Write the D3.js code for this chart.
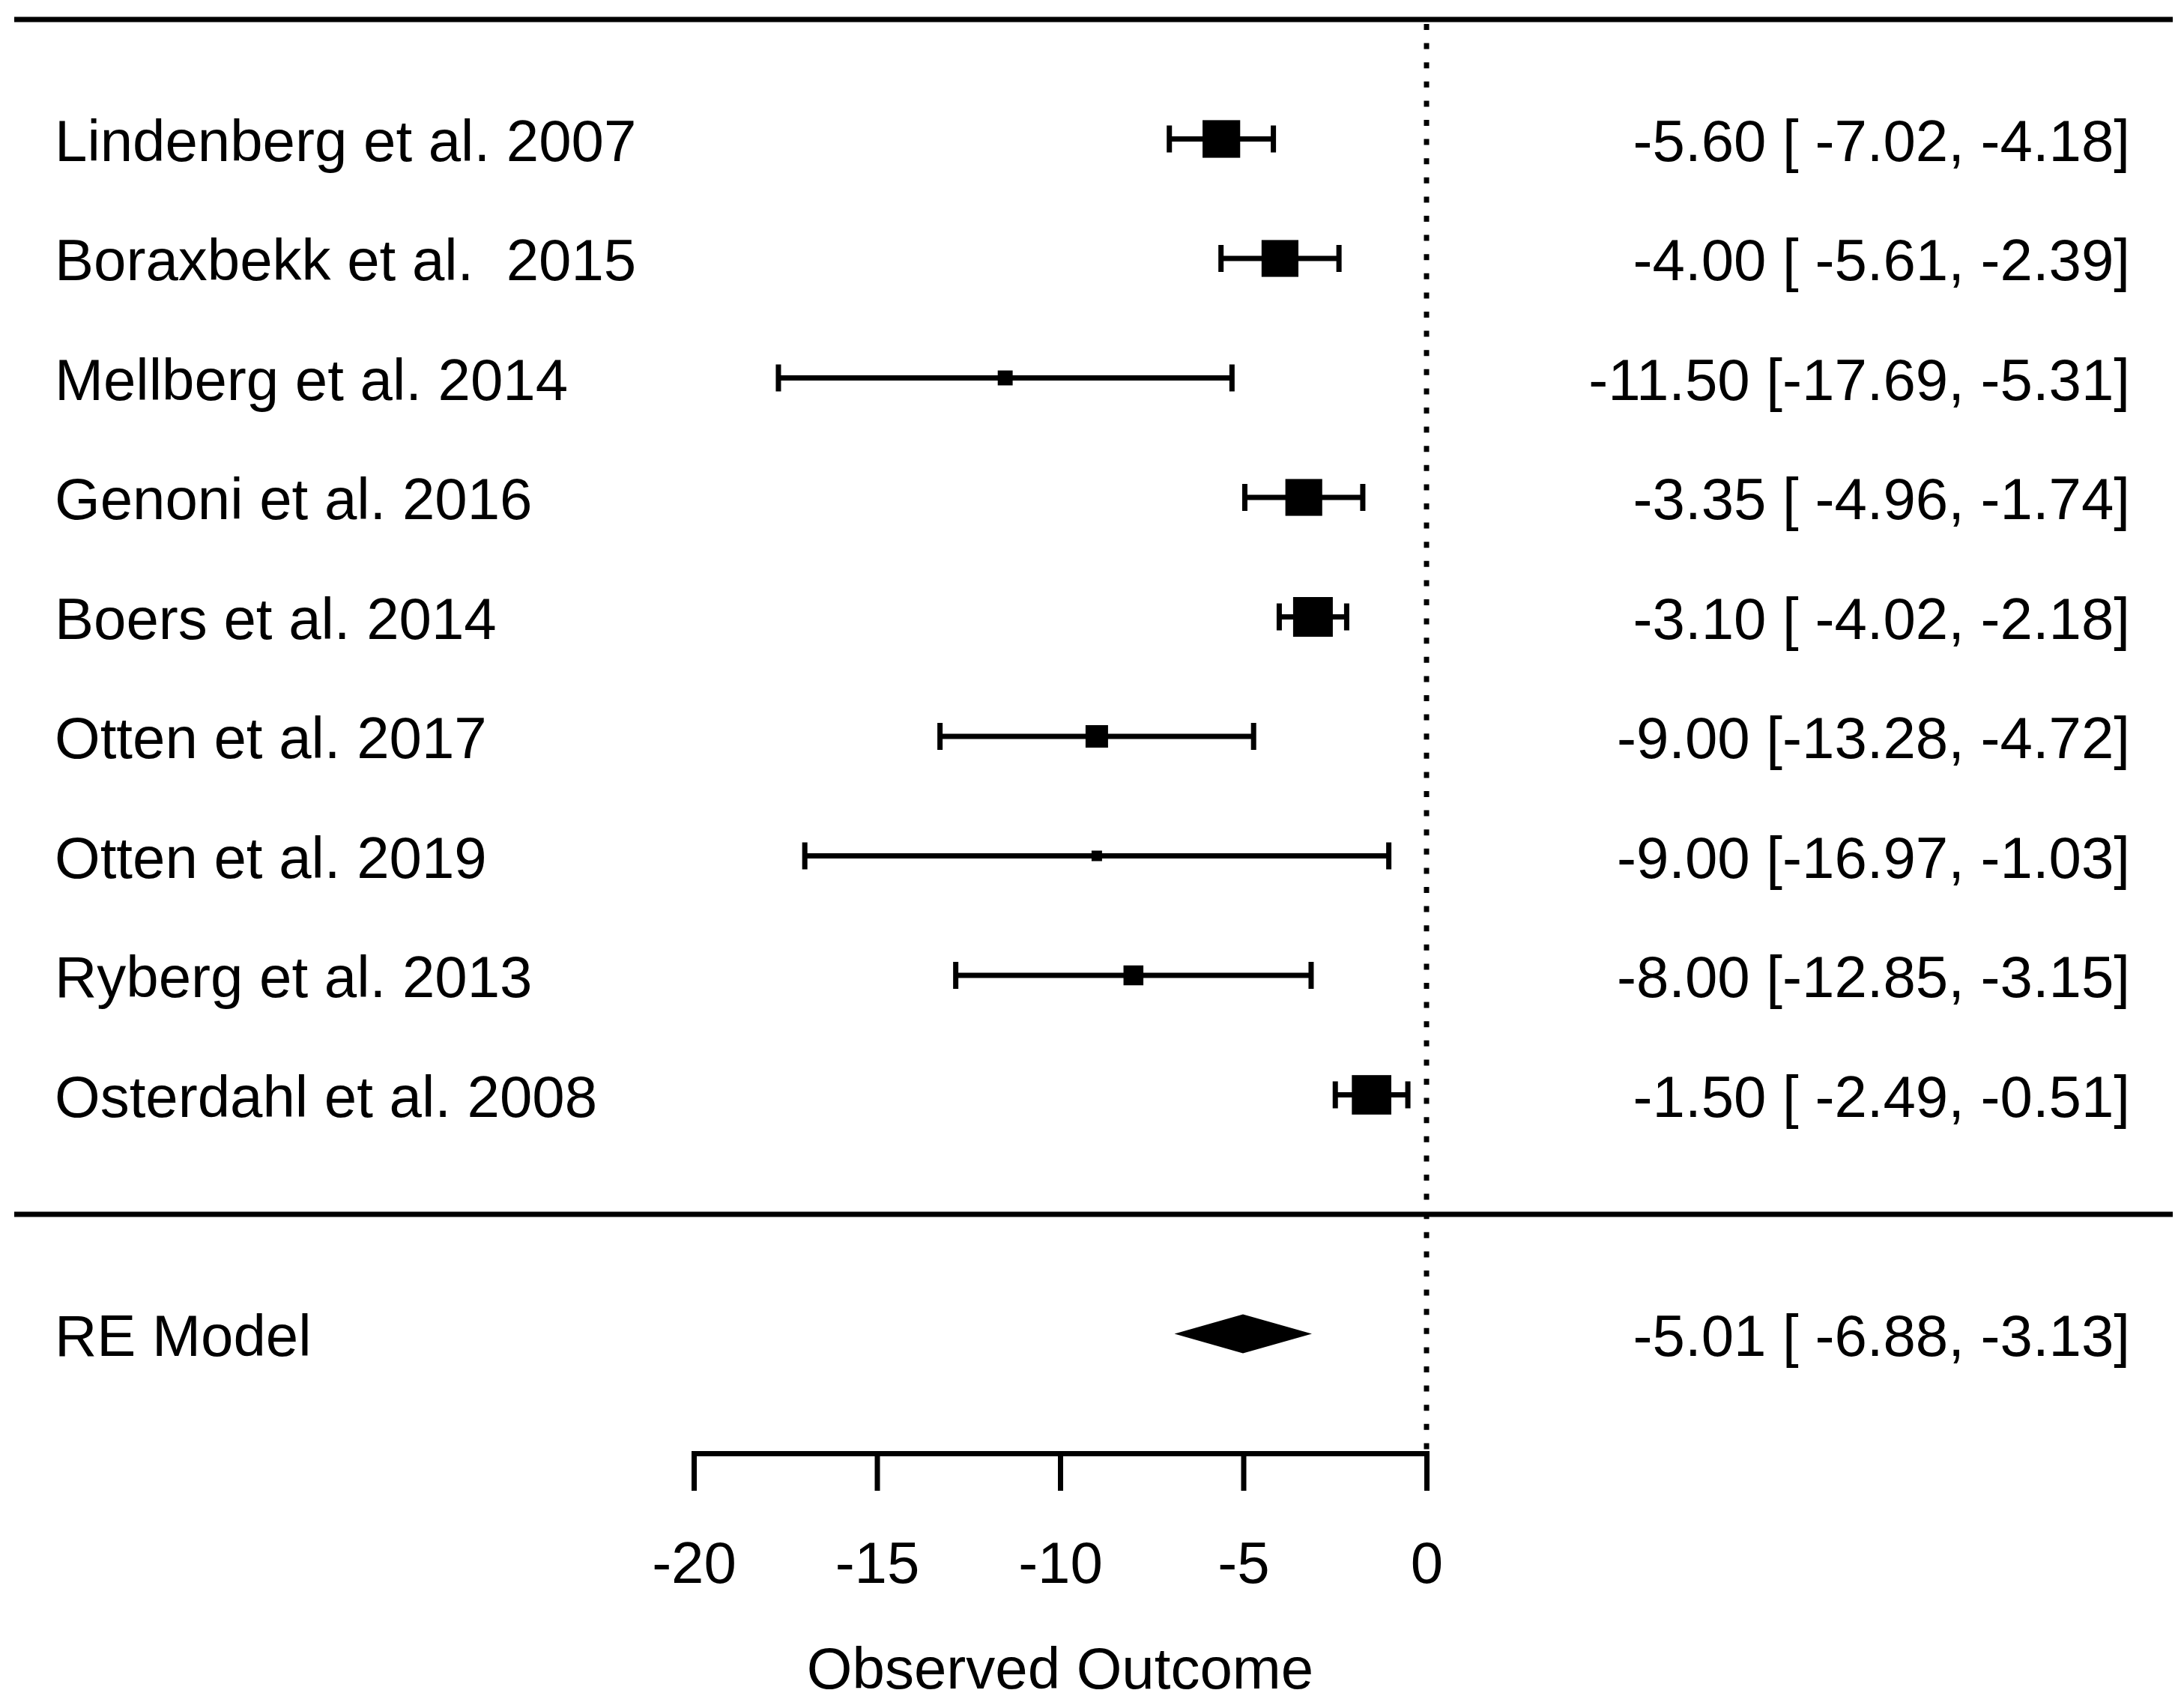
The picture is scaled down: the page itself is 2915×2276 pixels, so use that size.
<!DOCTYPE html>
<html>
<head>
<meta charset="utf-8">
<script src="https://cdn.jsdelivr.net/npm/d3@7"></script>
<style>
  body { margin: 0; background: #fff; }
  svg { display: block; }
  text { font-family: "Liberation Sans", Arial, sans-serif; fill: #000; white-space: pre; }
</style>
</head>
<body>
<svg id="chart" width="2915" height="2276"></svg>
<script>
// study rows, top to bottom
const studies = [
  "Lindenberg et al. 2007",
  "Boraxbekk et al.  2015",
  "Mellberg et al. 2014",
  "Genoni et al. 2016",
  "Boers et al. 2014",
  "Otten et al. 2017",
  "Otten et al. 2019",
  "Ryberg et al. 2013",
  "Osterdahl et al. 2008"
];
const estimates = [-5.60, -4.00, -11.50, -3.35, -3.10, -9.00, -9.00, -8.00, -1.50];
const lowers = [-7.02, -5.61, -17.69, -4.96, -4.02, -13.28, -16.97, -12.85, -2.49];
const uppers = [-4.18, -2.39, -5.31, -1.74, -2.18, -4.72, -1.03, -3.15, -0.51];
// approximate random-effects weights (%), sets the square size
const weights = [14.5, 14.2, 5.8, 14.2, 15.3, 8.7, 4.1, 7.7, 15.2];

const summaryLabel = "RE Model";
const summaryEst = -5.01, summaryLower = -6.88, summaryUpper = -3.13;

const xTicks = [-20, -15, -10, -5, 0];
const xLabel = "Observed Outcome";

var lw = 7,
  fontSize = 78,
  capH = 18,
  diamondH = 26,
  lineLeft = 19,
  lineRight = 2900,
  labelX = 73,
  annotX = 2843;

var x = d3.scaleLinear().domain([-20, 0]).range([926, 1904]);
// metafor style rows: k..1 for studies, 0 separator, -1 summary, -2 axis
var y = d3.scaleLinear().domain([10, -2]).range([26, 1940]);
var size = d3.scaleLinear().domain(d3.extent(weights)).range([14, 53]);

var k = studies.length;
var rows = studies.map((s, i) => ({
  label: s,
  est: estimates[i],
  lb: lowers[i],
  ub: uppers[i],
  w: weights[i],
  row: k - i
}));

function fmt(v, width) {
  var s = v.toFixed(2);
  while (s.length < width) s = " " + s;
  return s;
}
function annot(est, lb, ub) {
  return est.toFixed(2) + " [" + fmt(lb, 6) + ", " + fmt(ub, 5) + "]";
}

var svg = d3.select("#chart");

// horizontal rules
svg.append("g")
  .selectAll("line")
  .data([k + 1, 0])
  .enter()
  .append("line")
  .attr("x1", lineLeft)
  .attr("x2", lineRight)
  .attr("y1", (d) => y(d))
  .attr("y2", (d) => y(d))
  .attr("stroke", "#000")
  .attr("stroke-width", lw);

// reference line at 0
svg.append("line")
  .attr("x1", x(0))
  .attr("x2", x(0))
  .attr("y1", y(k + 1) + 6)
  .attr("y2", y(-2))
  .attr("stroke", "#000")
  .attr("stroke-width", lw)
  .attr("stroke-dasharray", "8 17.6");

// study marks
var g = svg.append("g").selectAll("g").data(rows).enter().append("g");

g.append("line")
  .attr("x1", (d) => x(d.lb))
  .attr("x2", (d) => x(d.ub))
  .attr("y1", (d) => y(d.row))
  .attr("y2", (d) => y(d.row))
  .attr("stroke", "#000")
  .attr("stroke-width", lw);

["lb", "ub"].forEach((key) => {
  g.append("line")
    .attr("x1", (d) => x(d[key]))
    .attr("x2", (d) => x(d[key]))
    .attr("y1", (d) => y(d.row) - capH)
    .attr("y2", (d) => y(d.row) + capH)
    .attr("stroke", "#000")
    .attr("stroke-width", lw);
});

g.append("rect")
  .attr("x", (d) => x(d.est) - size(d.w) / 2)
  .attr("y", (d) => y(d.row) - size(d.w) / 2)
  .attr("width", (d) => size(d.w))
  .attr("height", (d) => size(d.w))
  .attr("fill", "#000");

g.append("text")
  .attr("x", labelX)
  .attr("y", (d) => y(d.row) + 29)
  .attr("font-size", fontSize)
  .text((d) => d.label);

g.append("text")
  .attr("x", annotX)
  .attr("y", (d) => y(d.row) + 29)
  .attr("font-size", fontSize)
  .attr("text-anchor", "end")
  .text((d) => annot(d.est, d.lb, d.ub));

// summary diamond
var ys = y(-1);
svg.append("polygon")
  .attr("points", [
    [x(summaryLower), ys],
    [x(summaryEst), ys - diamondH],
    [x(summaryUpper), ys],
    [x(summaryEst), ys + diamondH]
  ].map((p) => p.join(",")).join(" "))
  .attr("fill", "#000");

svg.append("text")
  .attr("x", labelX)
  .attr("y", ys + 29)
  .attr("font-size", fontSize)
  .text(summaryLabel);

svg.append("text")
  .attr("x", annotX)
  .attr("y", ys + 29)
  .attr("font-size", fontSize)
  .attr("text-anchor", "end")
  .text(annot(summaryEst, summaryLower, summaryUpper));

// x axis
var axis_x = d3.axisBottom(x)
  .tickValues(xTicks)
  .tickSize(50)
  .tickSizeOuter(0)
  .tickFormat((d) => String(d));

var ax = svg.append("g")
  .attr("id", "axis_x")
  .attr("transform", "translate(0," + y(-2) + ")")
  .call(axis_x);

ax.select(".domain").attr("stroke", "#000").attr("stroke-width", lw).attr("stroke-linecap", "square");
ax.selectAll(".tick line").attr("stroke", "#000").attr("stroke-width", lw);
ax.selectAll(".tick text")
  .attr("font-family", null)
  .attr("font-size", fontSize)
  .attr("fill", "#000")
  .attr("y", 173)
  .attr("dy", null);
ax.attr("font-family", null).attr("font-size", null);

svg.append("text")
  .attr("x", (x(-20) + x(0)) / 2)
  .attr("y", y(-2) + 314)
  .attr("font-size", fontSize)
  .attr("text-anchor", "middle")
  .text(xLabel);
</script>
</body>
</html>
